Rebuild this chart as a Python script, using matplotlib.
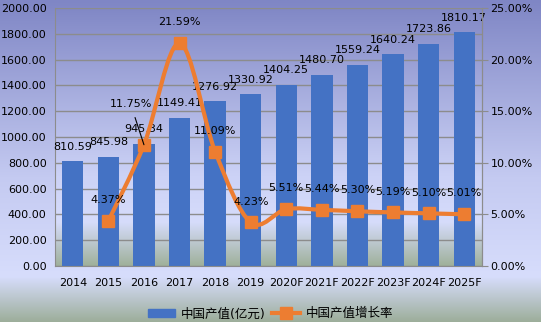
import numpy as np
import matplotlib
matplotlib.use("Agg")
import matplotlib.pyplot as plt
from matplotlib.colors import LinearSegmentedColormap
from matplotlib.lines import Line2D
from matplotlib.patches import Patch, PathPatch
from matplotlib.path import Path

plt.rcParams["font.family"] = ["DejaVu Sans", "Noto Sans CJK SC"]

years = ["2014", "2015", "2016", "2017", "2018", "2019",
         "2020F", "2021F", "2022F", "2023F", "2024F", "2025F"]
output_values = [810.59, 845.98, 945.34, 1149.41, 1276.92, 1330.92,
                 1404.25, 1480.70, 1559.24, 1640.24, 1723.86, 1810.17]
growth_years = years[1:]
growth_rates = [4.37, 11.75, 21.59, 11.09, 4.23, 5.51, 5.44, 5.30, 5.19, 5.10, 5.01]

BAR_COLOR = "#4472C4"
LINE_COLOR = "#ED7D31"
GRID_COLOR = "#8c8c8c"

fig = plt.figure(figsize=(5.41, 3.22), dpi=100)

# 背景グラデーション（図全体とプロット領域）
left, right, bottom, top = 55 / 541, 482 / 541, 1 - 266 / 322, 1 - 8 / 322
bg = fig.add_axes([0, 0, 1, 1], zorder=-10)
bg.set_xlim(0, 1)
bg.set_ylim(0, 1)
bg.axis("off")
fig_cmap = LinearSegmentedColormap.from_list(
    "figbg", [(0.0, "#9dae9b"), (0.14, "#d7ddfc"), (0.45, "#c4caf1"), (1.0, "#7f86c5")])
plot_cmap = LinearSegmentedColormap.from_list(
    "plotbg", [(0.0, "#9fb19b"), (0.17, "#d6dcfb"), (0.35, "#ccd2f6"), (1.0, "#8188c6")])
grad = np.linspace(0, 1, 256).reshape(-1, 1)
bg.imshow(grad, cmap=fig_cmap, origin="lower", extent=[0, 1, 0, 1], aspect="auto")
bg.imshow(grad, cmap=plot_cmap, origin="lower", extent=[left, right, bottom, top], aspect="auto")

ax = fig.add_axes([left, bottom, right - left, top - bottom])
ax.patch.set_alpha(0)
x = np.arange(len(years))
ax.bar(x, output_values, width=0.6, color=BAR_COLOR, zorder=2)
ax.set_xlim(-0.5, len(years) - 0.5)
ax.set_ylim(0, 2000)
ax.set_yticks(np.arange(0, 2001, 200))
ax.set_yticklabels([f"{v:.2f}" for v in np.arange(0, 2001, 200)])
ax.set_xticks(x)
ax.set_xticklabels(years)
ax.set_axisbelow(True)
ax.yaxis.grid(True, color=GRID_COLOR, lw=1)
ax.xaxis.grid(False)
ax.tick_params(axis="y", length=0, pad=6, labelsize=8)
ax.tick_params(axis="x", length=0, pad=9, labelsize=8)
for s in ["left", "bottom", "right"]:
    ax.spines[s].set_color(GRID_COLOR)
ax.spines["top"].set_visible(False)

for xi, v in zip(x, output_values):
    ax.annotate(f"{v:.2f}", (xi, v), xytext=(0, 10.5), textcoords="offset points",
                ha="center", va="center", fontsize=8, zorder=5)

ax2 = ax.twinx()
ax2.set_ylim(0, 25)
ax2.set_yticks(np.arange(0, 26, 5))
ax2.set_yticklabels([f"{v:.2f}%" for v in np.arange(0, 26, 5)])
ax2.tick_params(axis="y", length=4, pad=2, labelsize=8, color=GRID_COLOR)
ax2.grid(False)
for s in ["left", "bottom", "top"]:
    ax2.spines[s].set_visible(False)
ax2.spines["right"].set_color(GRID_COLOR)

# 平滑化した折れ線（Excel風ベジェ）
gx = np.array([years.index(y) for y in growth_years], dtype=float)
pts = np.column_stack([gx, growth_rates])
verts = [pts[0]]
codes = [Path.MOVETO]
n = len(pts)
for i in range(n - 1):
    prev_p = pts[i - 1] if i > 0 else pts[i]
    next_p = pts[i + 2] if i + 2 < n else pts[i + 1]
    c1 = pts[i] + (pts[i + 1] - prev_p) / 6
    c2 = pts[i + 1] - (next_p - pts[i]) / 6
    verts += [c1, c2, pts[i + 1]]
    codes += [Path.CURVE4] * 3
ax2.add_patch(PathPatch(Path(verts, codes), fill=False, edgecolor=LINE_COLOR,
                        lw=3, capstyle="round", joinstyle="round", zorder=3))
ax2.plot(gx, growth_rates, ls="none", marker="s", ms=8.5, color=LINE_COLOR, zorder=4)

for xi, r, name in zip(gx, growth_rates, growth_years):
    if name == "2016":
        ax2.annotate(f"{r:.2f}%", (xi, r), xytext=(-9.5, 29), textcoords="offset points",
                     ha="center", va="center", fontsize=8, zorder=5,
                     arrowprops=dict(arrowstyle="-", color="black", lw=0.8,
                                     shrinkA=4, shrinkB=0))
    else:
        ax2.annotate(f"{r:.2f}%", (xi, r), xytext=(0, 15), textcoords="offset points",
                     ha="center", va="center", fontsize=8, zorder=5)

handles = [Patch(color=BAR_COLOR),
           Line2D([0], [0], color=LINE_COLOR, lw=3, marker="s", ms=8.5)]
fig.legend(handles, ["中国产值(亿元)", "中国产值增长率"], loc="lower center",
           bbox_to_anchor=(0.5, -0.03), ncol=2, frameon=False, fontsize=9,
           handlelength=2.2, columnspacing=0.5, handletextpad=0.5)

fig.savefig("out.png", dpi=100)
